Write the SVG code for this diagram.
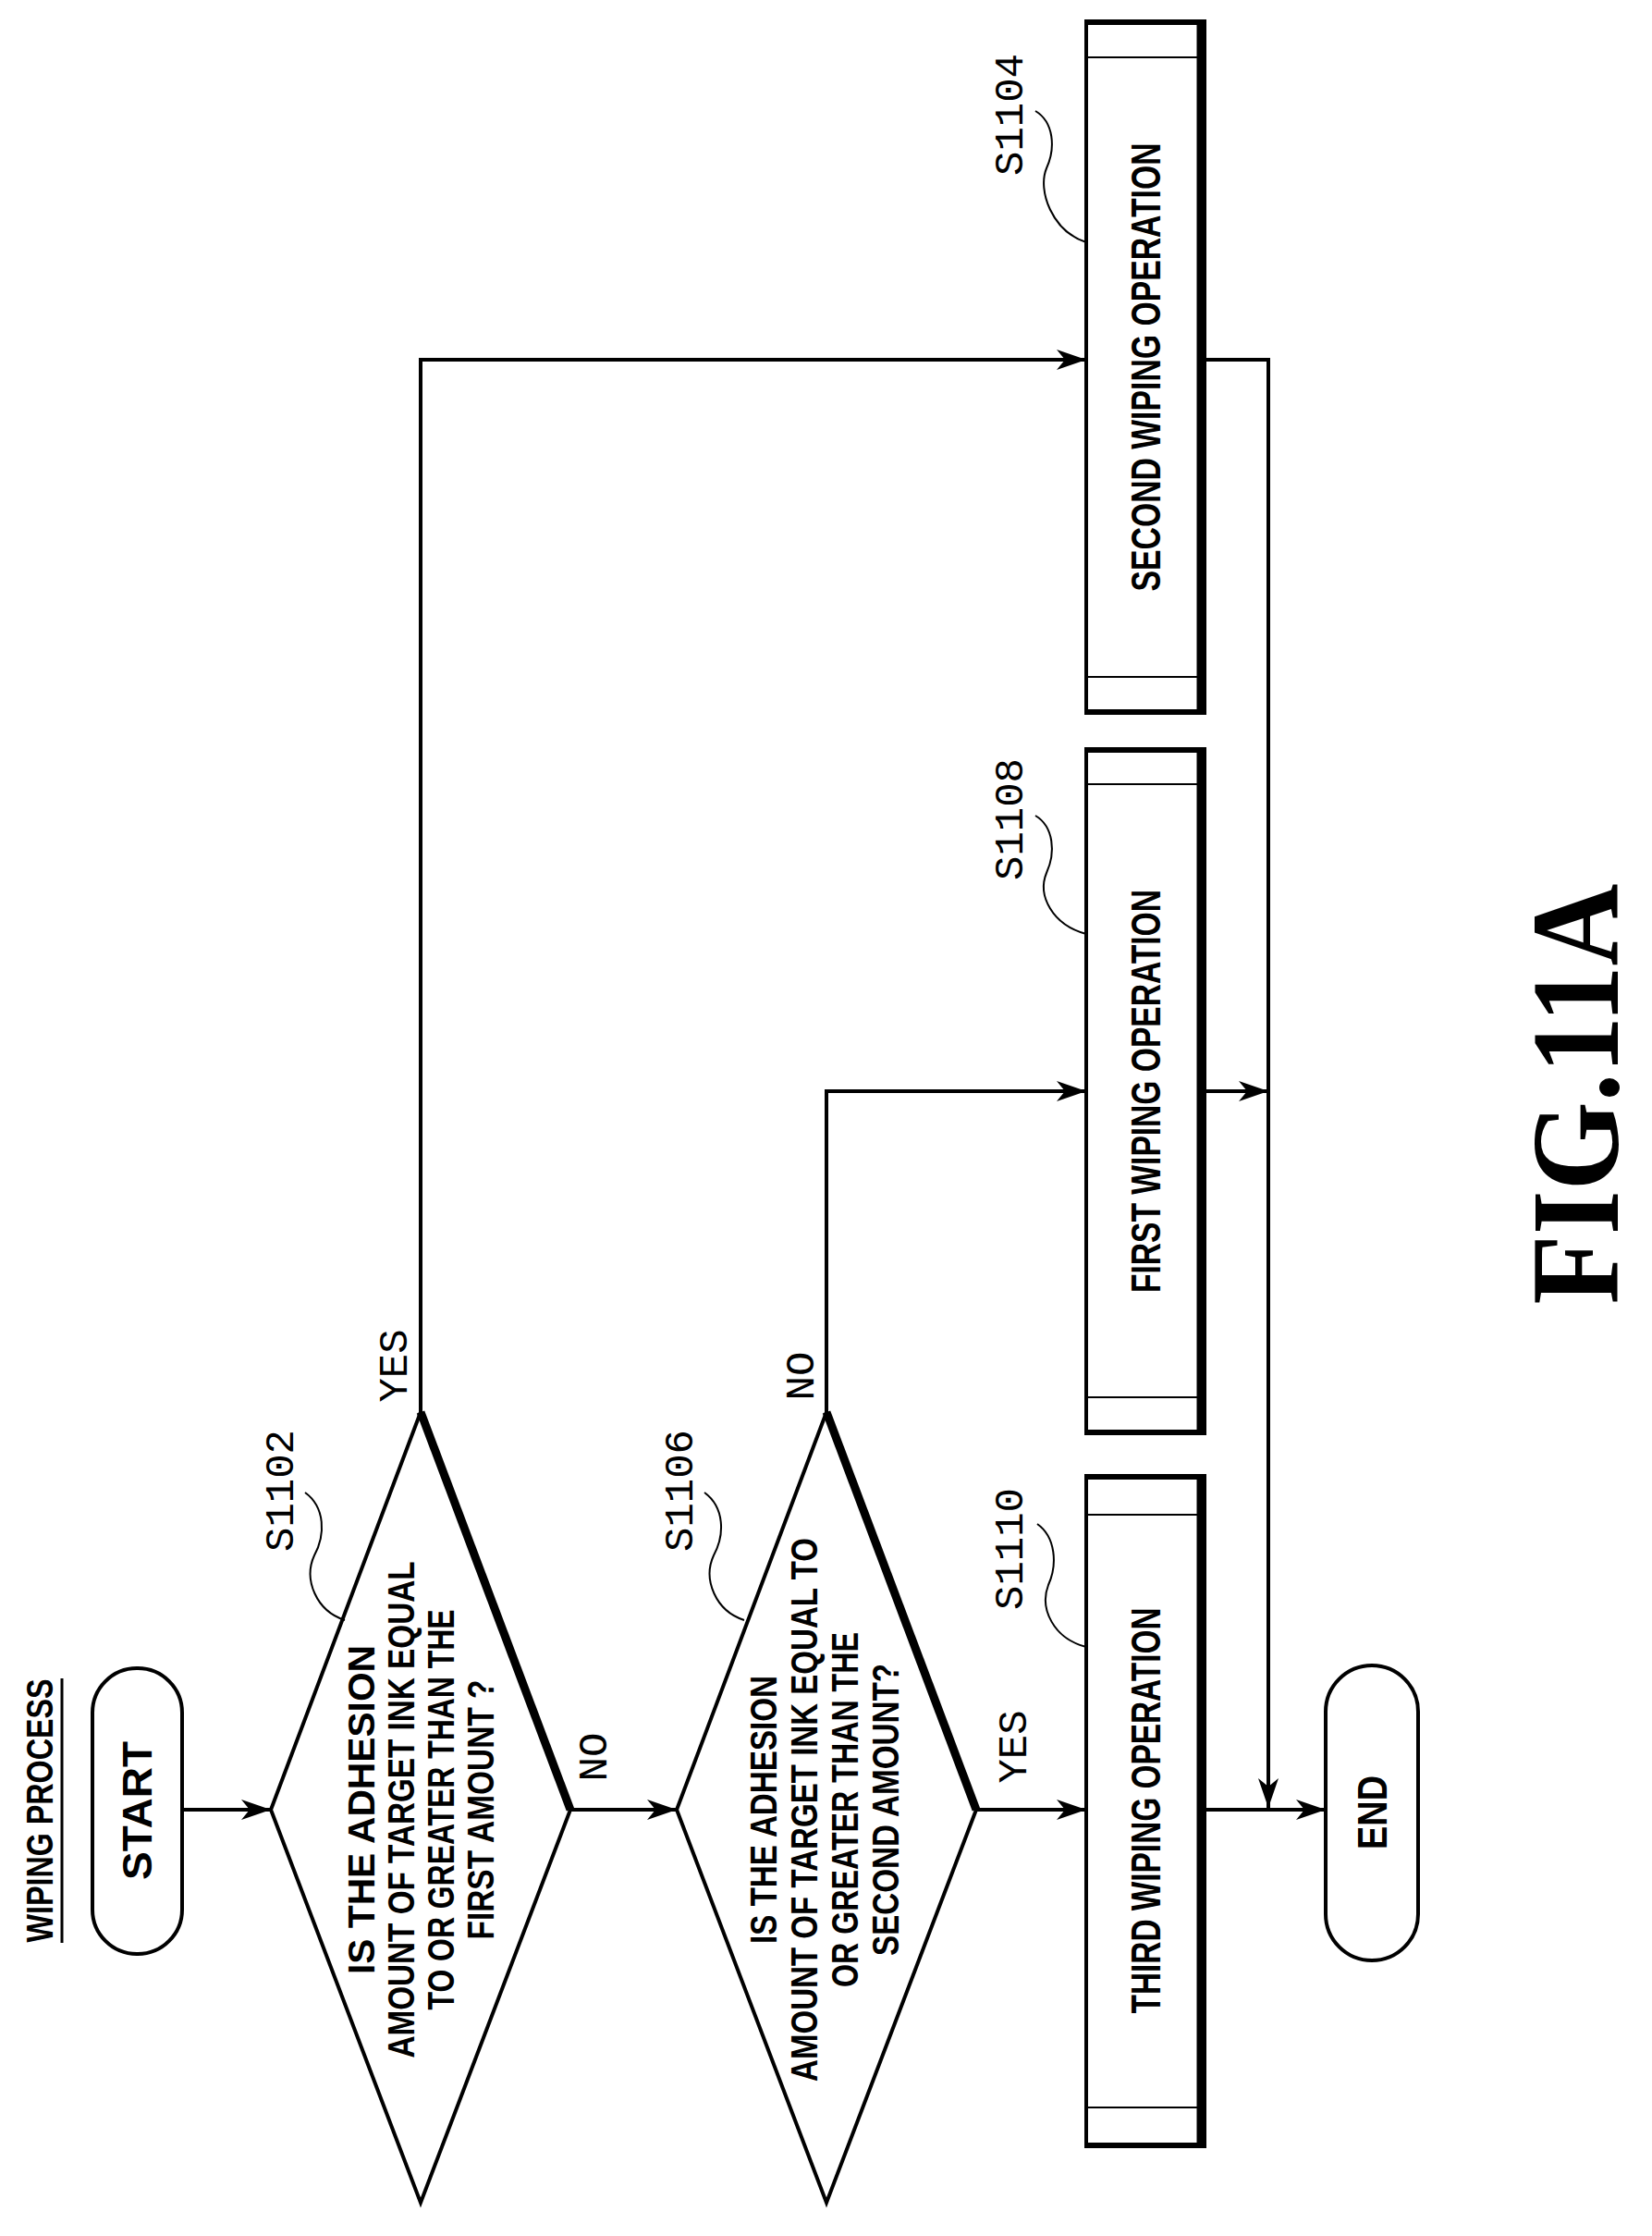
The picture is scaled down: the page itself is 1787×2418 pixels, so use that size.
<svg xmlns="http://www.w3.org/2000/svg" width="1787" height="2418" viewBox="0 0 1787 2418">
<style>
.ln{fill:none;stroke:#000;stroke-width:4}
.sh{fill:#fff;stroke:#000;stroke-width:4}
.th{fill:none;stroke:#000;stroke-width:9}
.lead{fill:none;stroke:#000;stroke-width:2}
.t{font-family:"Liberation Sans",Arial,sans-serif;font-weight:bold;text-anchor:middle;dominant-baseline:central;fill:#000}
.m{font-family:"Liberation Mono","DejaVu Sans Mono",monospace;font-size:44px;text-anchor:middle;dominant-baseline:central;fill:#000}
</style>
<defs>
<marker id="ah" markerWidth="34" markerHeight="22" refX="32" refY="11" orient="auto" markerUnits="userSpaceOnUse">
<path d="M0,0 L32,11 L0,22 L9,11 z" fill="#000"/>
</marker>
</defs>
<rect width="1787" height="2418" fill="#fff"/>
<g id="title">
<text class="t" transform="translate(43,1958) rotate(-90)" font-size="40" textLength="285" lengthAdjust="spacingAndGlyphs">WIPING PROCESS</text>
<line x1="67" y1="1815" x2="67" y2="2101" stroke="#000" stroke-width="3"/>
</g>
<g id="connectors">
<line class="ln" x1="197" y1="1957" x2="293" y2="1957" marker-end="url(#ah)"/>
<line class="ln" x1="617" y1="1957" x2="732" y2="1957" marker-end="url(#ah)"/>
<line class="ln" x1="1056" y1="1957" x2="1175" y2="1957" marker-end="url(#ah)"/>
<line class="ln" x1="1303" y1="1957" x2="1434" y2="1957" marker-end="url(#ah)"/>
<polyline class="ln" points="455,1527 455,389 1175,389" marker-end="url(#ah)"/>
<polyline class="ln" points="894,1527 894,1180 1175,1180" marker-end="url(#ah)"/>
<polyline class="ln" points="1303,389 1372,389 1372,1955" marker-end="url(#ah)"/>
<line class="ln" x1="1303" y1="1180" x2="1372" y2="1180" marker-end="url(#ah)"/>
</g>
<g id="labels">
<text class="m" transform="translate(428,1477) rotate(-90)">YES</text>
<text class="m" transform="translate(868,1488) rotate(-90)">NO</text>
<text class="m" transform="translate(644,1900) rotate(-90)">NO</text>
<text class="m" transform="translate(1098,1889) rotate(-90)">YES</text>
</g>
<g id="start">
<rect class="sh" x="100" y="1804" width="97" height="309" rx="48" ry="48" stroke-width="6"/>
<text class="t" transform="translate(148,1958) rotate(-90)" font-size="44" textLength="150" lengthAdjust="spacingAndGlyphs">START</text>
</g>
<g id="s1102">
<polygon class="sh" points="455,1527 617,1957 455,2382 293,1957"/>
<line class="th" x1="455" y1="1527" x2="617" y2="1957"/>
<g class="t" font-size="41">
<text transform="translate(455,1957) rotate(-90)" y="-64" textLength="356" lengthAdjust="spacingAndGlyphs">IS THE ADHESION</text>
<text transform="translate(455,1957) rotate(-90)" y="-21" textLength="537" lengthAdjust="spacingAndGlyphs">AMOUNT OF TARGET INK EQUAL</text>
<text transform="translate(455,1957) rotate(-90)" y="22" textLength="433" lengthAdjust="spacingAndGlyphs">TO OR GREATER THAN THE</text>
<text transform="translate(455,1957) rotate(-90)" y="65" textLength="281" lengthAdjust="spacingAndGlyphs">FIRST AMOUNT ?</text>
</g>
<text class="m" transform="translate(305,1612) rotate(-90)">S1102</text>
<path class="lead" d="M330,1614 C352,1630 352,1660 340,1682 C328,1708 342,1742 373,1752"/>
</g>
<g id="s1106">
<polygon class="sh" points="894,1527 1056,1957 894,2382 732,1957"/>
<line class="th" x1="894" y1="1527" x2="1056" y2="1957"/>
<g class="t" font-size="40">
<text transform="translate(892,1957) rotate(-90)" y="-66" textLength="290" lengthAdjust="spacingAndGlyphs">IS THE ADHESION</text>
<text transform="translate(892,1957) rotate(-90)" y="-22" textLength="588" lengthAdjust="spacingAndGlyphs">AMOUNT OF TARGET INK EQUAL TO</text>
<text transform="translate(892,1957) rotate(-90)" y="22" textLength="384" lengthAdjust="spacingAndGlyphs">OR GREATER THAN THE</text>
<text transform="translate(892,1957) rotate(-90)" y="66" textLength="316" lengthAdjust="spacingAndGlyphs">SECOND AMOUNT?</text>
</g>
<text class="m" transform="translate(737,1612) rotate(-90)">S1106</text>
<path class="lead" d="M762,1614 C784,1630 784,1660 772,1682 C760,1708 774,1742 805,1752"/>
</g>
<g id="s1104">
<rect class="sh" x="1175" y="23" width="128" height="748"/>
<line class="th" x1="1299" y1="23" x2="1299" y2="771"/>
<line class="ln" x1="1175" y1="25" x2="1303" y2="25" stroke-width="7"/>
<line class="ln" x1="1175" y1="769" x2="1303" y2="769" stroke-width="7"/>
<line class="lead" x1="1175" y1="62" x2="1303" y2="62"/>
<line class="lead" x1="1175" y1="732" x2="1303" y2="732"/>
<text class="t" transform="translate(1239,397) rotate(-90)" font-size="44" textLength="485" lengthAdjust="spacingAndGlyphs">SECOND WIPING OPERATION</text>
<text class="m" transform="translate(1094,124) rotate(-90)">S1104</text>
<path class="lead" d="M1120,120 C1140,132 1142,160 1132,182 C1122,206 1138,250 1175,262"/>
</g>
<g id="s1108">
<rect class="sh" x="1175" y="810" width="128" height="740"/>
<line class="th" x1="1299" y1="810" x2="1299" y2="1550"/>
<line class="ln" x1="1175" y1="812" x2="1303" y2="812" stroke-width="7"/>
<line class="ln" x1="1175" y1="1548" x2="1303" y2="1548" stroke-width="7"/>
<line class="lead" x1="1175" y1="848" x2="1303" y2="848"/>
<line class="lead" x1="1175" y1="1511" x2="1303" y2="1511"/>
<text class="t" transform="translate(1239,1180) rotate(-90)" font-size="44" textLength="436" lengthAdjust="spacingAndGlyphs">FIRST WIPING OPERATION</text>
<text class="m" transform="translate(1094,886) rotate(-90)">S1108</text>
<path class="lead" d="M1120,882 C1140,894 1142,922 1132,944 C1122,968 1138,1000 1175,1010"/>
</g>
<g id="s1110">
<rect class="sh" x="1175" y="1596" width="128" height="725"/>
<line class="th" x1="1299" y1="1596" x2="1299" y2="2321"/>
<line class="ln" x1="1175" y1="1598" x2="1303" y2="1598" stroke-width="7"/>
<line class="ln" x1="1175" y1="2319" x2="1303" y2="2319" stroke-width="7"/>
<line class="lead" x1="1175" y1="1638" x2="1303" y2="1638"/>
<line class="lead" x1="1175" y1="2279" x2="1303" y2="2279"/>
<text class="t" transform="translate(1239,1958) rotate(-90)" font-size="44" textLength="439" lengthAdjust="spacingAndGlyphs">THIRD WIPING OPERATION</text>
<text class="m" transform="translate(1094,1675) rotate(-90)">S1110</text>
<path class="lead" d="M1122,1648 C1142,1662 1144,1692 1134,1714 C1124,1740 1140,1772 1175,1781"/>
</g>
<g id="end">
<rect class="sh" x="1434" y="1801" width="100" height="319" rx="50" ry="50" stroke-width="6"/>
<text class="t" transform="translate(1484,1960) rotate(-90)" font-size="44" textLength="80" lengthAdjust="spacingAndGlyphs">END</text>
</g>
<text transform="translate(1704,1183) rotate(-90)" font-family="Liberation Serif,'Times New Roman',serif" font-weight="bold" font-size="136" text-anchor="middle" dominant-baseline="central" textLength="455" lengthAdjust="spacingAndGlyphs">FIG.11A</text>
</svg>
